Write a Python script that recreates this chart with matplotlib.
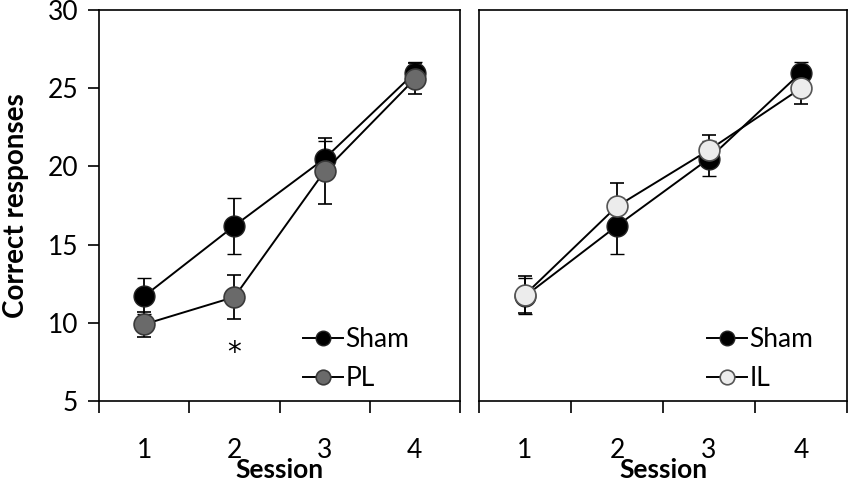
import matplotlib
matplotlib.use("Agg")
import matplotlib.pyplot as plt
from matplotlib.ticker import FixedLocator, NullFormatter, FixedFormatter

plt.rcParams['font.family'] = ['Lato', 'DejaVu Sans']

sessions = [1, 2, 3, 4]
session_labels = ['1', '2', '3', '4']

sham_mean = [11.7, 16.2, 20.5, 26.0]
sham_sem = [1.15, 1.8, 1.1, 0.7]
pl_mean = [9.9, 11.65, 19.7, 25.6]
pl_sem = [0.8, 1.4, 2.1, 1.0]
il_mean = [11.8, 17.45, 21.05, 25.0]
il_sem = [1.2, 1.5, 0.95, 1.0]

fig = plt.figure(figsize=(8.5, 4.82), dpi=100)
ax1 = fig.add_axes([99/850, 1 - 401/482, 361/850, 391/482])
ax2 = fig.add_axes([479/850, 1 - 401/482, 368/850, 391/482])


def draw(ax, mean, sem, face, edge, name, leg_x):
    c1 = ax.errorbar(sessions, sham_mean, yerr=sham_sem, color='black', lw=1.4,
                     marker='o', ms=15, mfc='black', mec='#222222', mew=1.0,
                     capsize=5, capthick=1.3, elinewidth=1.3, zorder=3)
    c2 = ax.errorbar(sessions, mean, yerr=sem, color='black', lw=1.4,
                     marker='o', ms=15, mfc=face, mec=edge, mew=1.2,
                     capsize=5, capthick=1.3, elinewidth=1.3, zorder=4)
    ax.set_xlim(0.5, 4.5)
    ax.set_ylim(5, 30)
    ax.xaxis.set_major_locator(FixedLocator([0.5, 1.5, 2.5, 3.5, 4.5]))
    ax.xaxis.set_major_formatter(NullFormatter())
    ax.xaxis.set_minor_locator(FixedLocator(sessions))
    ax.xaxis.set_minor_formatter(FixedFormatter(session_labels))
    ax.tick_params(axis='x', which='major', direction='out', length=8.5, width=1.2)
    ax.tick_params(axis='x', which='minor', length=0, pad=27, labelsize=19)
    ax.set_xlabel('Session', fontsize=19, fontweight='bold')
    ax.xaxis.set_label_coords(0.5, -0.146)
    for s in ax.spines.values():
        s.set_linewidth(1.2)
    ax.legend([c1[0], c2[0]], ['Sham', name], loc='center left',
              bbox_to_anchor=(leg_x, 0.107), frameon=False,
              fontsize=19, markerscale=0.7, handlelength=1.5, handletextpad=0.1,
              labelspacing=0.55, borderaxespad=0, borderpad=0)


draw(ax1, pl_mean, pl_sem, '#6a6a6a', '#3a3a3a', 'PL', 0.565)
draw(ax2, il_mean, il_sem, '#ececec', '#555555', 'IL', 0.62)

ax1.set_yticks([5, 10, 15, 20, 25, 30])
ax1.tick_params(axis='y', direction='out', length=8, width=1.2, labelsize=19, pad=7)
ax1.set_ylabel('Correct responses', fontsize=20, fontweight='bold', labelpad=13)
ax1.text(2, 8.1, '*', ha='center', va='center', fontsize=20, family='DejaVu Sans')

ax2.set_yticks([])

fig.savefig('out.png', dpi=100)
